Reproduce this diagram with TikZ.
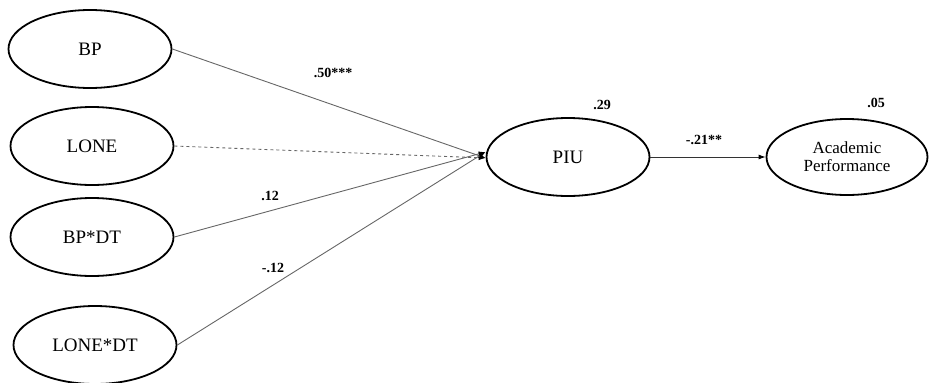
\documentclass[tikz,border=0pt]{standalone}
\usepackage{fontspec}
\setmainfont{Liberation Serif}
\usetikzlibrary{shapes.geometric,arrows.meta}
\begin{document}
\begin{tikzpicture}[x=1pt,y=-1pt,
  latent/.style={draw=black,line width=1.8pt,ellipse,minimum width=163pt,minimum height=78pt,inner sep=0pt,font=\fontsize{19}{21}\selectfont,align=center},
  path/.style={draw=black!60,line width=0.9pt,-{Latex[length=7pt,width=5pt,black]}},
  coef/.style={font=\bfseries\fontsize{14}{16}\selectfont,inner sep=0pt}]
\useasboundingbox (0,0) rectangle (930,383);
\node[latent] (bp) at (90,49) {BP};
\node[latent] (lone) at (92,146) {LONE};
\node[latent] (bpdt) at (92,237) {BP*DT};
\node[latent] (lonedt) at (95,345) {LONE*DT};
\node[latent] (piu) at (568,157) {PIU};
\node[latent,minimum width=161pt,minimum height=76pt,font=\fontsize{17}{18}\selectfont] (ap) at (847,157) {Academic\\Performance};
\coordinate (t1) at ([yshift=-1pt]piu.west);
\coordinate (t2) at ([yshift=5pt]piu.west);
\draw[path] (bp.east) -- (t1);
\draw[path,dashed] (lone.east) -- (t1);
\draw[path] (bpdt.east) -- (t2);
\draw[path] (lonedt.east) -- (t2);
\draw[path,draw=black!80] (piu.east) -- (ap.west);
\node[coef] (c1) at (333,73) {.50***};
\node[coef] (c2) at (270,196) {.12};
\node[coef] (c3) at (273,268) {-.12};
\node[coef] (c4) at (602,105) {.29};
\node[coef] (c5) at (704,140) {-.21**};
\node[coef] (c6) at (876,103) {.05};
\end{tikzpicture}
\end{document}
